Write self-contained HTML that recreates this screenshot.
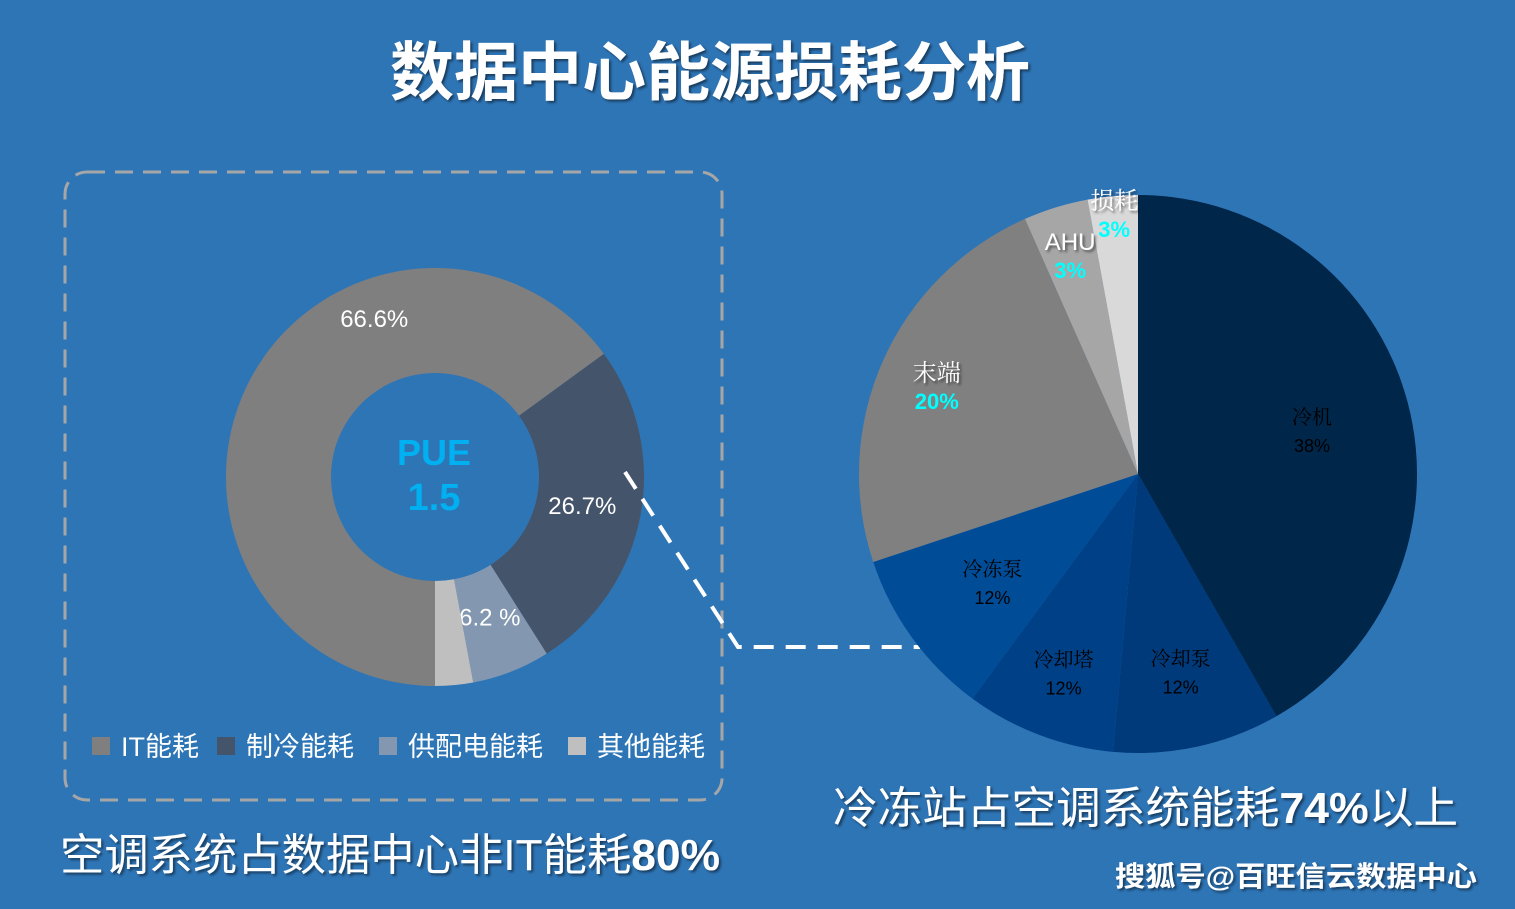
<!DOCTYPE html>
<html><head><meta charset="utf-8"><style>
html,body{margin:0;padding:0;background:#2E75B6;}
svg{display:block;}
text{font-family:"Liberation Sans","Noto Sans CJK SC",sans-serif;}
.serif{font-family:"Liberation Serif","Noto Serif CJK SC",serif;}
</style></head><body>
<svg id="chart" width="1515" height="909" viewBox="0 0 1515 909" xmlns="http://www.w3.org/2000/svg">
<defs><filter id="sh" x="-10%" y="-10%" width="120%" height="130%"><feDropShadow dx="2" dy="2" stdDeviation="1.2" flood-color="#000" flood-opacity="0.5"/></filter></defs>
<rect width="1515" height="909" fill="#2E75B6"/>
<text x="710" y="95" text-anchor="middle" font-size="64" font-weight="bold" fill="#fff" filter="url(#sh)">数据中心能源损耗分析</text>
<rect x="65" y="172" width="657" height="628" rx="22" fill="none" stroke="#A6A6A6" stroke-width="3" stroke-dasharray="18 10"/>
<g id="donut"></g>
<text x="434" y="465" text-anchor="middle" font-size="36" font-weight="bold" fill="#00B0F0">PUE</text>
<text x="434" y="510" text-anchor="middle" font-size="38" font-weight="bold" fill="#00B0F0">1.5</text>
<g id="legend"></g>
<polyline points="625,472 738,647 920,647" fill="none" stroke="#fff" stroke-width="4" stroke-dasharray="20 12"/>
<g id="pie"></g>
<text x="60" y="870" font-size="44" fill="#fff" filter="url(#sh)" textLength="660" lengthAdjust="spacingAndGlyphs">空调系统占数据中心非IT能耗<tspan font-weight="bold">80%</tspan></text>
<text x="833" y="823" font-size="44" fill="#fff" filter="url(#sh)" textLength="625" lengthAdjust="spacingAndGlyphs">冷冻站占空调系统能耗<tspan font-weight="bold">74%</tspan>以上</text>
<text x="1115" y="886" font-size="28" font-weight="bold" fill="#fff" filter="url(#sh)" textLength="362" lengthAdjust="spacingAndGlyphs">搜狐号@百旺信云数据中心</text>
</svg>
<script>
const donutCategories = ["IT能耗","制冷能耗","供配电能耗","其他能耗"];
const donutValues = [66.6, 26.7, 6.2, 3.0];
const donutLabels = ["66.6%","26.7%","6.2 %",""];
const donutColors = ["#7F7F7F","#44546A","#8497B0","#BFBFBF"];
const pieCategories = ["冷机","冷却泵","冷却塔","冷冻泵","末端","AHU","损耗"];
const pieValues = [41.8, 9.7, 8.7, 9.8, 23.5, 3.75, 2.9];
const pieLabels = ["38%","12%","12%","12%","20%","3%","3%"];
const pieColors = ["#00264A","#003A7A","#004087","#004C97","#808080","#A6A6A6","#D9D9D9"];
const NS="http://www.w3.org/2000/svg";
function mk(t,a,p){const e=document.createElementNS(NS,t);for(const k in a)e.setAttribute(k,a[k]);p.appendChild(e);return e;}
function pt(cx,cy,r,deg){const a=(deg-90)*Math.PI/180;return [cx+r*Math.cos(a),cy+r*Math.sin(a)];}
function arc(cx,cy,r0,r1,a0,a1){const l=(a1-a0)>180?1:0;const p1=pt(cx,cy,r1,a0),p2=pt(cx,cy,r1,a1);
 if(r0===0)return `M${cx},${cy}L${p1}A${r1},${r1} 0 ${l} 1 ${p2}Z`;
 const p3=pt(cx,cy,r0,a1),p4=pt(cx,cy,r0,a0);return `M${p1}A${r1},${r1} 0 ${l} 1 ${p2}L${p3}A${r0},${r0} 0 ${l} 0 ${p4}Z`;}
// donut
const dg=document.getElementById('donut');const dcx=435,dcy=477,dr0=104,dr1=209;
let tot=donutValues.reduce((a,b)=>a+b,0),ang=180;
donutValues.forEach((v,i)=>{const s=v/tot*360;const p=mk('path',{d:arc(dcx,dcy,dr0,dr1,ang,ang+s),fill:donutColors[i]},dg);
 
 
 if(donutLabels[i]){const lr=i===0?170:150;const mid=i===0?ang+s*0.68:ang+s/2;const q=pt(dcx,dcy,lr,mid);
  const t=mk('text',{x:q[0],y:q[1]+9,'text-anchor':'middle','font-size':'24',fill:'#fff'},dg);t.textContent=donutLabels[i];
  
  }
 ang+=s;});
// legend
const lg=document.getElementById('legend');const lx=[92,217,379,568];
donutCategories.forEach((c,i)=>{const r=mk('rect',{x:lx[i],y:737,width:18,height:18,fill:donutColors[i]},lg);
 
 
 const t=mk('text',{x:lx[i]+29,y:756,'font-size':'27',fill:'#fff'},lg);t.textContent=c;
 
 });
// pie
const pg=document.getElementById('pie');const pcx=1138,pcy=474,pr=279;
tot=pieValues.reduce((a,b)=>a+b,0);ang=0;const mids=[];
pieValues.forEach((v,i)=>{const s=v/tot*360;const p=mk('path',{d:arc(pcx,pcy,0,pr,ang,ang+s),fill:pieColors[i]},pg);
 
 mids.push(ang+s/2);ang+=s;});
const lrad=[180,200,210,180,220,230,262];
pieCategories.forEach((c,i)=>{const q=pt(pcx,pcy,lrad[i],mids[i]);const light=i>=4;
 const t1=mk('text',{x:q[0],y:q[1]-4,'text-anchor':'middle','font-size':light?'24':'20',fill:light?'#fff':'#000',class:light&&i!==5?'serif':(light?'':'serif')},pg);
 if(light)t1.setAttribute('filter','url(#sh)');t1.textContent=c;
 
 
 const t2=mk('text',{x:q[0],y:q[1]+24,'text-anchor':'middle','font-size':light?'22':'18',fill:light?'#00FFFF':'#000','font-weight':light?'bold':'normal'},pg);
 t2.textContent=pieLabels[i];
 
 });
</script>
</body></html>
